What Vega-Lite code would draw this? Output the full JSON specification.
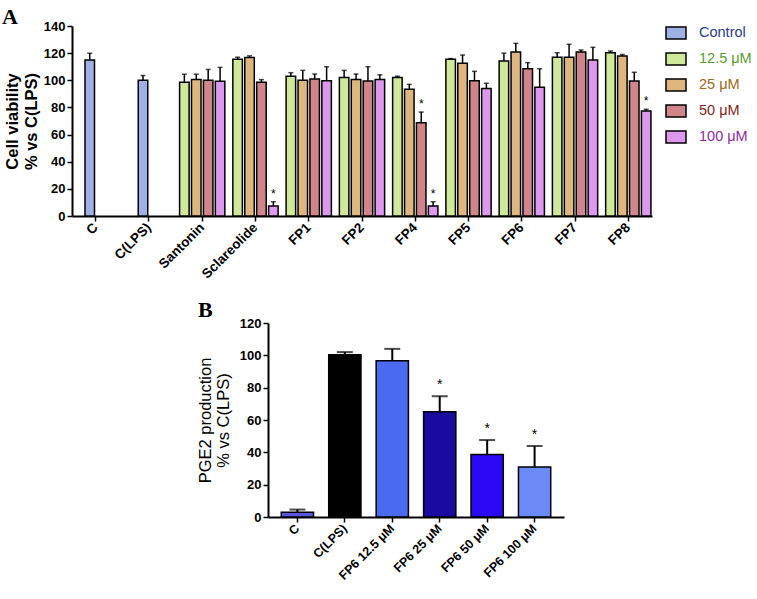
{
  "$schema": "https://vega.github.io/schema/vega-lite/v6.json",
  "padding": {"left": 2, "top": 6, "right": 2, "bottom": 2},
  "background": "white",
  "config": {
    "font": "Liberation Sans",
    "view": {"stroke": null},
    "axis": {"domainColor": "black", "domainWidth": 2, "tickColor": "black", "tickWidth": 1.5, "tickSize": 5, "labelColor": "black", "titleColor": "black", "grid": false, "labelFont": "Liberation Sans", "titleFont": "Liberation Sans"}
  },
  "resolve": {"scale": {"color": "independent", "y": "independent", "x": "independent", "xOffset": "independent"}, "legend": {"color": "independent"}, "axis": {"x": "independent", "y": "independent"}},
  "datasets": {
    "a": [
      {"group": "C", "series": "Control", "slot": "s2", "value": 115, "upper": 120, "star": ""},
      {"group": "C(LPS)", "series": "Control", "slot": "s2", "value": 100, "upper": 103.5, "star": ""},
      {"group": "Santonin", "series": "12.5 μM", "slot": "s1", "value": 98.5, "upper": 104.5, "star": ""},
      {"group": "Santonin", "series": "25 μM", "slot": "s2", "value": 100.5, "upper": 104.5, "star": ""},
      {"group": "Santonin", "series": "50 μM", "slot": "s3", "value": 100, "upper": 108, "star": ""},
      {"group": "Santonin", "series": "100 μM", "slot": "s4", "value": 99.3, "upper": 109.5, "star": ""},
      {"group": "Sclareolide", "series": "12.5 μM", "slot": "s1", "value": 115.5, "upper": 117, "star": ""},
      {"group": "Sclareolide", "series": "25 μM", "slot": "s2", "value": 116.8, "upper": 118, "star": ""},
      {"group": "Sclareolide", "series": "50 μM", "slot": "s3", "value": 98.5, "upper": 100.5, "star": ""},
      {"group": "Sclareolide", "series": "100 μM", "slot": "s4", "value": 7.4, "upper": 10.5, "star": "*"},
      {"group": "FP1", "series": "12.5 μM", "slot": "s1", "value": 103, "upper": 105.6, "star": ""},
      {"group": "FP1", "series": "25 μM", "slot": "s2", "value": 100, "upper": 107.3, "star": ""},
      {"group": "FP1", "series": "50 μM", "slot": "s3", "value": 101, "upper": 104.6, "star": ""},
      {"group": "FP1", "series": "100 μM", "slot": "s4", "value": 99.7, "upper": 110, "star": ""},
      {"group": "FP2", "series": "12.5 μM", "slot": "s1", "value": 102, "upper": 107.3, "star": ""},
      {"group": "FP2", "series": "25 μM", "slot": "s2", "value": 100.5, "upper": 104.6, "star": ""},
      {"group": "FP2", "series": "50 μM", "slot": "s3", "value": 99.5, "upper": 110, "star": ""},
      {"group": "FP2", "series": "100 μM", "slot": "s4", "value": 100.5, "upper": 104, "star": ""},
      {"group": "FP4", "series": "12.5 μM", "slot": "s1", "value": 102, "upper": 103, "star": ""},
      {"group": "FP4", "series": "25 μM", "slot": "s2", "value": 93.4, "upper": 97, "star": ""},
      {"group": "FP4", "series": "50 μM", "slot": "s3", "value": 68.8, "upper": 76.6, "star": "*"},
      {"group": "FP4", "series": "100 μM", "slot": "s4", "value": 7.4, "upper": 10.5, "star": "*"},
      {"group": "FP5", "series": "12.5 μM", "slot": "s1", "value": 115.5, "upper": 116, "star": ""},
      {"group": "FP5", "series": "25 μM", "slot": "s2", "value": 112.5, "upper": 118.6, "star": ""},
      {"group": "FP5", "series": "50 μM", "slot": "s3", "value": 99.7, "upper": 106.6, "star": ""},
      {"group": "FP5", "series": "100 μM", "slot": "s4", "value": 94, "upper": 97.8, "star": ""},
      {"group": "FP6", "series": "12.5 μM", "slot": "s1", "value": 114.3, "upper": 120, "star": ""},
      {"group": "FP6", "series": "25 μM", "slot": "s2", "value": 120.8, "upper": 127.2, "star": ""},
      {"group": "FP6", "series": "50 μM", "slot": "s3", "value": 108.5, "upper": 113, "star": ""},
      {"group": "FP6", "series": "100 μM", "slot": "s4", "value": 94.8, "upper": 108.5, "star": ""},
      {"group": "FP7", "series": "12.5 μM", "slot": "s1", "value": 117, "upper": 120.3, "star": ""},
      {"group": "FP7", "series": "25 μM", "slot": "s2", "value": 117, "upper": 126.5, "star": ""},
      {"group": "FP7", "series": "50 μM", "slot": "s3", "value": 120.8, "upper": 122.3, "star": ""},
      {"group": "FP7", "series": "100 μM", "slot": "s4", "value": 115, "upper": 124.3, "star": ""},
      {"group": "FP8", "series": "12.5 μM", "slot": "s1", "value": 120.3, "upper": 121.6, "star": ""},
      {"group": "FP8", "series": "25 μM", "slot": "s2", "value": 117.9, "upper": 119, "star": ""},
      {"group": "FP8", "series": "50 μM", "slot": "s3", "value": 99.5, "upper": 105.9, "star": ""},
      {"group": "FP8", "series": "100 μM", "slot": "s4", "value": 77.4, "upper": 78.6, "star": "*"}
    ],
    "b": [
      {"group": "C", "value": 2.9, "upper": 4.6, "star": ""},
      {"group": "C(LPS)", "value": 100.3, "upper": 102, "star": ""},
      {"group": "FP6 12.5 μM", "value": 96.6, "upper": 104, "star": ""},
      {"group": "FP6 25 μM", "value": 65.1, "upper": 74.7, "star": "*"},
      {"group": "FP6 50 μM", "value": 38.7, "upper": 47.6, "star": "*"},
      {"group": "FP6 100 μM", "value": 31, "upper": 43.9, "star": "*"}
    ]
  },
  "vconcat": [
    {
      "width": 580,
      "height": 190,
      "title": {"text": "A", "font": "Liberation Serif", "fontSize": 22, "fontWeight": "bold", "anchor": "start", "frame": "group", "dx": -70, "offset": -9, "color": "black"},
      "data": {"name": "a"},
      "encoding": {
        "x": {"field": "group", "type": "nominal", "sort": ["C", "C(LPS)", "Santonin", "Sclareolide", "FP1", "FP2", "FP4", "FP5", "FP6", "FP7", "FP8"], "scale": {"paddingInner": 0.15, "paddingOuter": 0.02},
          "axis": {"title": null, "labelAngle": -45, "labelAlign": "right", "labelBaseline": "middle", "labelFontWeight": "bold", "labelFontSize": 13.5, "labelPadding": 4}},
        "xOffset": {"field": "slot", "type": "nominal", "sort": ["s1", "s2", "s3", "s4"], "scale": {"paddingInner": 0.2}}
      },
      "layer": [
        {
          "mark": {"type": "bar", "stroke": "black", "strokeWidth": 1.5},
          "encoding": {
            "y": {"field": "value", "type": "quantitative", "scale": {"domain": [0, 140], "nice": false},
              "axis": {"values": [0, 20, 40, 60, 80, 100, 120, 140], "tickCount": 8, "labelOverlap": false, "title": ["Cell viability", "% vs C(LPS)"], "titleFontSize": 16.5, "titleFontWeight": "bold", "labelFontWeight": "bold", "labelFontSize": 13, "titlePadding": 4, "titleLineHeight": 19}},
            "color": {"field": "series", "type": "nominal", "sort": ["Control", "12.5 μM", "25 μM", "50 μM", "100 μM"],
              "scale": {"domain": ["Control", "12.5 μM", "25 μM", "50 μM", "100 μM"], "range": ["#9fb0e6", "#cfe89a", "#ddb680", "#cf8589", "#dc98ec"]},
              "legend": {"title": null, "orient": "none", "legendX": 593, "legendY": -4, "symbolType": "M-1,-0.6H1V0.6H-1Z", "symbolSize": 400, "symbolStrokeColor": "black", "symbolStrokeWidth": 1.5, "symbolOpacity": 1, "labelFontSize": 14.5, "labelFont": "Liberation Sans", "labelOffset": 12, "rowPadding": 6,
                "encode": {"labels": {"update": {"fill": {"signal": "['#2e3a8c','#5b9a2c','#9c6b20','#7e1f1f','#8e2a9e'][datum.index]"}}}}}}
          }
        },
        {
          "mark": {"type": "rule", "color": "black", "strokeWidth": 1.5},
          "encoding": {"y": {"field": "value", "type": "quantitative",
              "axis": {"values": [0, 20, 40, 60, 80, 100, 120, 140], "tickCount": 8, "labelOverlap": false, "title": ["Cell viability", "% vs C(LPS)"], "titleFontSize": 16.5, "titleFontWeight": "bold", "labelFontWeight": "bold", "labelFontSize": 13, "titlePadding": 4, "titleLineHeight": 19}}, "y2": {"field": "upper"}}
        },
        {
          "mark": {"type": "tick", "color": "black", "thickness": 1.5, "size": 5},
          "encoding": {"y": {"field": "upper", "type": "quantitative",
              "axis": {"values": [0, 20, 40, 60, 80, 100, 120, 140], "tickCount": 8, "labelOverlap": false, "title": ["Cell viability", "% vs C(LPS)"], "titleFontSize": 16.5, "titleFontWeight": "bold", "labelFontWeight": "bold", "labelFontSize": 13, "titlePadding": 4, "titleLineHeight": 19}}}
        },
        {
          "mark": {"type": "text", "color": "black", "fontSize": 12, "dy": -8, "baseline": "middle"},
          "encoding": {"y": {"field": "upper", "type": "quantitative",
              "axis": {"values": [0, 20, 40, 60, 80, 100, 120, 140], "tickCount": 8, "labelOverlap": false, "title": ["Cell viability", "% vs C(LPS)"], "titleFontSize": 16.5, "titleFontWeight": "bold", "labelFontWeight": "bold", "labelFontSize": 13, "titlePadding": 4, "titleLineHeight": 19}}, "text": {"field": "star"}}
        }
      ]
    },
    {
      "spacing": 0,
      "hconcat": [
        {
          "width": 125,
          "height": 10,
          "data": {"values": [{"k": 1}]},
          "mark": {"type": "point", "opacity": 0},
          "encoding": {}
        },
        {
          "width": 296,
          "height": 194,
          "title": {"text": "B", "font": "Liberation Serif", "fontSize": 22, "fontWeight": "bold", "anchor": "start", "frame": "group", "dx": -70, "offset": -5, "color": "black"},
          "data": {"name": "b"},
          "encoding": {
            "x": {"field": "group", "type": "nominal", "sort": ["C", "C(LPS)", "FP6 12.5 μM", "FP6 25 μM", "FP6 50 μM", "FP6 100 μM"], "scale": {"paddingInner": 0.32, "paddingOuter": 0.28},
              "axis": {"title": null, "labelAngle": -45, "labelAlign": "right", "labelBaseline": "middle", "labelFontWeight": "bold", "labelFontSize": 12.5, "labelPadding": 4}}
          },
          "layer": [
            {
              "mark": {"type": "bar", "stroke": "black", "strokeWidth": 1.5},
              "encoding": {
                "y": {"field": "value", "type": "quantitative", "scale": {"domain": [0, 120], "nice": false},
                  "axis": {"values": [0, 20, 40, 60, 80, 100, 120], "tickCount": 7, "labelOverlap": false, "title": ["PGE2 production", "% vs C(LPS)"], "titleFontSize": 16.5, "titleFontWeight": "normal", "labelFontWeight": "bold", "labelFontSize": 13, "titlePadding": 8, "titleLineHeight": 18}},
                "color": {"field": "group", "type": "nominal", "sort": ["C", "C(LPS)", "FP6 12.5 μM", "FP6 25 μM", "FP6 50 μM", "FP6 100 μM"],
                  "scale": {"domain": ["C", "C(LPS)", "FP6 12.5 μM", "FP6 25 μM", "FP6 50 μM", "FP6 100 μM"], "range": ["#5656e0", "#000000", "#4a6af0", "#1a0aa0", "#2a0af5", "#6a8af5"]}, "legend": null}
              }
            },
            {
              "mark": {"type": "rule", "color": "black", "strokeWidth": 2},
              "encoding": {"y": {"field": "value", "type": "quantitative",
                  "axis": {"values": [0, 20, 40, 60, 80, 100, 120], "tickCount": 7, "labelOverlap": false, "title": ["PGE2 production", "% vs C(LPS)"], "titleFontSize": 16.5, "titleFontWeight": "normal", "labelFontWeight": "bold", "labelFontSize": 13, "titlePadding": 8, "titleLineHeight": 18}}, "y2": {"field": "upper"}}
            },
            {
              "mark": {"type": "tick", "color": "black", "thickness": 2, "size": 16},
              "encoding": {"y": {"field": "upper", "type": "quantitative",
                  "axis": {"values": [0, 20, 40, 60, 80, 100, 120], "tickCount": 7, "labelOverlap": false, "title": ["PGE2 production", "% vs C(LPS)"], "titleFontSize": 16.5, "titleFontWeight": "normal", "labelFontWeight": "bold", "labelFontSize": 13, "titlePadding": 8, "titleLineHeight": 18}}}
            },
            {
              "mark": {"type": "text", "color": "black", "fontSize": 14, "dy": -11, "baseline": "middle"},
              "encoding": {"y": {"field": "upper", "type": "quantitative",
                  "axis": {"values": [0, 20, 40, 60, 80, 100, 120], "tickCount": 7, "labelOverlap": false, "title": ["PGE2 production", "% vs C(LPS)"], "titleFontSize": 16.5, "titleFontWeight": "normal", "labelFontWeight": "bold", "labelFontSize": 13, "titlePadding": 8, "titleLineHeight": 18}}, "text": {"field": "star"}}
            }
          ]
        }
      ]
    }
  ],
  "spacing": 18
}
